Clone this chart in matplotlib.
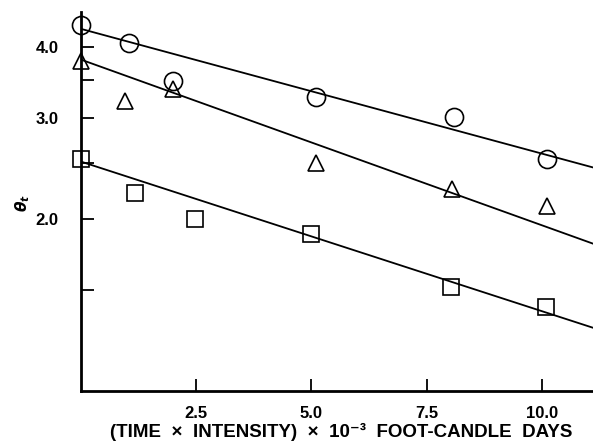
import matplotlib
matplotlib.use("Agg")
import matplotlib.pyplot as plt
from matplotlib.ticker import FixedLocator, NullFormatter, FixedFormatter

# data (theta_t vs exposure)
circle_x = [0.0, 1.05, 2.0, 5.1, 8.1, 10.1]
circle_y = [4.36, 4.06, 3.48, 3.27, 3.02, 2.54]
tri_x = [0.0, 0.97, 2.0, 5.1, 8.05, 10.1]
tri_y = [3.78, 3.22, 3.37, 2.5, 2.26, 2.11]
square_x = [0.0, 1.17, 2.48, 5.0, 8.02, 10.08]
square_y = [2.54, 2.22, 2.0, 1.88, 1.52, 1.40]

# fitted lines, end values
fit_x = [0.0, 11.1]
circle_fit = [4.3, 2.46]
tri_fit = [3.8, 1.81]
square_fit = [2.52, 1.29]

x_ticks = [2.5, 5.0, 7.5, 10.0]
x_labels = ["2.5", "5.0", "7.5", "10.0"]
y_major = [2.0, 3.0, 4.0]
y_labels = ["2.0", "3.0", "4.0"]
y_minor = [1.5, 2.5, 3.5]

plt.rcParams['font.family'] = ['Liberation Sans', 'DejaVu Sans']
plt.rcParams['font.weight'] = 'bold'

fig = plt.figure(figsize=(5.93, 4.42), dpi=100)
ax = fig.add_axes([80.5 / 593, 1 - 391 / 442, 1 - 80.5 / 593, (391 - 12) / 442])

for fy in (circle_fit, tri_fit, square_fit):
    ax.plot(fit_x, fy, color='black', lw=1.3, zorder=2)

mk = dict(linestyle='none', markerfacecolor='none', markeredgecolor='black',
          markeredgewidth=1.2, clip_on=False, zorder=3)
ax.plot(circle_x, circle_y, marker='o', markersize=13, **mk)
ax.plot(tri_x, tri_y, marker='^', markersize=12, **mk)
ax.plot(square_x, square_y, marker='s', markersize=11, **mk)

ax.set_yscale('log')
ax.set_xlim(0, 11.1)
ax.set_ylim(1.0, 4.6)

ax.xaxis.set_major_locator(FixedLocator(x_ticks))
ax.xaxis.set_major_formatter(FixedFormatter(x_labels))
ax.xaxis.set_minor_locator(FixedLocator([]))
ax.yaxis.set_major_locator(FixedLocator(y_major))
ax.yaxis.set_major_formatter(FixedFormatter(y_labels))
ax.yaxis.set_minor_locator(FixedLocator(y_minor))
ax.yaxis.set_minor_formatter(NullFormatter())

ax.tick_params(axis='both', which='both', direction='in', length=9, width=1.3,
               labelsize=12, color='black')
ax.tick_params(axis='y', pad=16)
ax.tick_params(axis='x', pad=11)

for s in ('top', 'right'):
    ax.spines[s].set_visible(False)
for s in ('left', 'bottom'):
    ax.spines[s].set_linewidth(2)

ax.set_xlabel("(TIME  \u00d7  INTENSITY)  \u00d7  10\u207b\u00b3  FOOT-CANDLE  DAYS",
              fontsize=13.5, fontweight='bold')
ax.xaxis.set_label_coords(0.508, -0.084)
ax.set_ylabel(r"$\theta_t$", fontsize=11, rotation=90)
ax.yaxis.set_label_coords(-0.095, 0.495)

fig.savefig("out.png", dpi=100)
